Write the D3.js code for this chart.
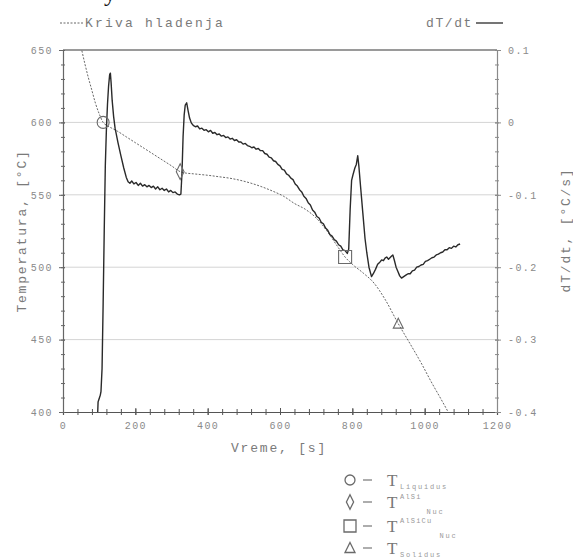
<!DOCTYPE html>
<html>
<head>
<meta charset="utf-8">
<script src="https://cdn.jsdelivr.net/npm/d3@7"></script>
<style>
body { margin: 0; background: #fff; }
text { font-family: "Liberation Mono", monospace; }
</style>
</head>
<body>
<div id="chart"></div>
<script>
// cooling curve (Kriva hladenja), left axis
var coolTime = [50, 60, 70, 80, 90, 100, 111, 120, 135, 150, 175, 200, 225, 250, 275, 300, 324, 340, 360, 380, 400, 430, 460, 490, 520, 550, 580, 610, 640, 670, 700, 730, 760, 780, 800, 830, 860, 890, 927, 960, 990, 1020, 1045, 1065];
var coolTemp = [652, 641, 631, 622, 613, 606, 600, 598, 596, 594, 590, 586, 582, 578, 574, 570, 566, 565, 564.5, 564, 563.5, 562.5, 561.5, 560, 558, 555.5, 552.5, 549, 544, 540, 534, 525, 514, 507, 502, 496, 489, 478, 461, 447, 434, 420, 409, 400];

// dT/dt, right axis
var rateTime = [96, 97, 99, 101, 103, 105, 108, 111, 114, 117, 120, 123, 126, 129, 131, 133, 136, 140, 144, 152, 160, 168, 175, 180,
  185, 190, 196, 202, 208, 214, 220, 226, 232, 238, 244, 250, 256, 262, 268, 274, 280, 286, 292, 298, 304, 310, 316, 322, 326,
  329, 332, 335, 338, 342, 346, 350, 355, 360,
  366, 372, 378, 384, 390, 396, 402, 408, 414, 420, 426, 432, 438, 444, 450, 456, 462, 468, 474, 480, 486, 492, 498, 504, 510, 516, 522, 528, 534,
  540, 546, 552, 558, 564, 570, 576, 582, 588, 594, 600, 606, 612, 618, 624, 630, 636, 642, 648, 654, 660, 666, 672, 678, 684, 690, 696, 702, 708, 714, 720, 726, 732, 738, 744, 750, 756, 762, 768, 774, 780, 786,
  790, 794, 798, 802, 807, 811, 815, 818, 823, 829, 835, 840, 846, 853, 858, 864, 870, 876, 881, 886, 891, 895, 900, 904, 908, 912, 916, 921, 926, 931, 936,
  942, 948, 954, 960, 966, 972, 978, 984, 990, 996, 1002, 1008, 1014, 1020, 1026, 1032, 1038, 1044, 1050, 1056, 1062, 1068, 1074, 1080, 1086, 1092, 1098];
var rateValue = [-0.400, -0.386, -0.383, -0.380, -0.377, -0.372, -0.340, -0.250, -0.150, -0.060, -0.010, 0.025, 0.050, 0.066, 0.068, 0.055, 0.030, 0.008, -0.008, -0.028, -0.046, -0.063, -0.076, -0.082,
  -0.084, -0.081, -0.085, -0.083, -0.087, -0.084, -0.088, -0.086, -0.089, -0.087, -0.090, -0.088, -0.092, -0.089, -0.093, -0.091, -0.094, -0.092, -0.096, -0.094, -0.097, -0.096, -0.099, -0.100, -0.099,
  -0.070, -0.020, 0.010, 0.024, 0.027, 0.016, 0.006, -0.001, -0.004,
  -0.006, -0.005, -0.009, -0.008, -0.011, -0.010, -0.013, -0.011, -0.015, -0.014, -0.017, -0.016, -0.019, -0.018, -0.021, -0.020, -0.023, -0.022, -0.025, -0.024, -0.027, -0.027, -0.030, -0.029, -0.032, -0.033, -0.035, -0.034, -0.037,
  -0.036, -0.039, -0.039, -0.043, -0.044, -0.048, -0.049, -0.053, -0.054, -0.058, -0.060, -0.065, -0.066, -0.071, -0.073, -0.077, -0.079, -0.085, -0.088, -0.093, -0.096, -0.102, -0.105, -0.111, -0.114, -0.121, -0.124, -0.130, -0.132, -0.138, -0.140, -0.146, -0.149, -0.155, -0.157, -0.162, -0.164, -0.169, -0.171, -0.176, -0.177, -0.181,
  -0.175, -0.120, -0.080, -0.072, -0.063, -0.058, -0.046, -0.060, -0.090, -0.125, -0.160, -0.180, -0.200, -0.213, -0.209, -0.203, -0.196, -0.193, -0.190, -0.191, -0.187, -0.186, -0.189, -0.187, -0.185, -0.183, -0.190, -0.200, -0.206, -0.212, -0.215,
  -0.213, -0.211, -0.209, -0.209, -0.205, -0.204, -0.200, -0.199, -0.197, -0.196, -0.192, -0.191, -0.189, -0.187, -0.186, -0.183, -0.182, -0.180, -0.179, -0.176, -0.176, -0.173, -0.174, -0.171, -0.172, -0.169, -0.168];

// characteristic points on the cooling curve
var markerShape = ["circle", "diamond", "square", "triangle"];
var markerTime = [111, 324, 780, 927];
var markerTemp = [600, 566, 507, 461];
var markerSup = ["", "AlSi", "AlSiCu", ""];
var markerSub = ["Liquidus", "Nuc", "Nuc", "Solidus"];

var xTicks = [0, 200, 400, 600, 800, 1000, 1200];
var leftTicks = [400, 450, 500, 550, 600, 650];
var rightTicks = [-0.4, -0.3, -0.2, -0.1, 0, 0.1];
var gridTemps = [450, 500, 550, 600];

var svg = d3.select("#chart").append("svg")
  .attr("width", 573)
  .attr("height", 560);

var x = d3.scaleLinear().domain([0, 1200]).range([63, 497]);
var yT = d3.scaleLinear().domain([400, 650]).range([412, 50]);
var yR = d3.scaleLinear().domain([-0.4, 0.1]).range([412, 50]);

svg.append("clipPath").attr("id", "clip")
  .append("rect").attr("x", 63).attr("y", 50).attr("width", 434).attr("height", 362);

// gridlines
svg.selectAll(".grid").data(gridTemps).enter().append("line")
  .attr("x1", 63).attr("x2", 497)
  .attr("y1", d => yT(d)).attr("y2", d => yT(d))
  .attr("stroke", "#d4d4d4").attr("stroke-width", 1);

// top border
svg.append("line").attr("x1", 63).attr("x2", 497).attr("y1", 50).attr("y2", 50)
  .attr("stroke", "#9a9a9a").attr("stroke-width", 2);

function styleAxis(g, color) {
  g.select(".domain").attr("stroke", color).attr("stroke-width", 1.2);
  g.selectAll(".tick line").attr("stroke", color);
  g.selectAll("text").style("font-family", "Liberation Mono, monospace")
    .style("font-size", "10px").style("letter-spacing", "1.4px").style("fill", "#8a8a8a");
}

// bottom axis: minor + major
var gxMinor = svg.append("g").attr("transform", "translate(0,412)")
  .call(d3.axisBottom(x).tickValues(d3.range(0, 1201, 40)).tickSize(3).tickFormat(""));
gxMinor.selectAll(".tick line").attr("y1", -3);
styleAxis(gxMinor, "#555");
var gx = svg.append("g").attr("transform", "translate(0,412)")
  .call(d3.axisBottom(x).tickValues(xTicks).tickSize(3).tickPadding(7).tickFormat(d => String(d)));
gx.selectAll(".tick line").attr("y1", -4);
gx.select(".domain").remove();
styleAxis(gx, "#555");

// left axis
var gyMinor = svg.append("g").attr("transform", "translate(63,0)")
  .call(d3.axisLeft(yT).tickValues(d3.range(400, 651, 10)).tickSize(2).tickFormat(""));
gyMinor.selectAll(".tick line").attr("x1", 2);
styleAxis(gyMinor, "#666");
var gy = svg.append("g").attr("transform", "translate(63,0)")
  .call(d3.axisLeft(yT).tickValues(leftTicks).tickSize(4).tickPadding(6));
gy.select(".domain").remove();
gy.selectAll(".tick line").attr("x1", 2);
styleAxis(gy, "#666");

// right axis
var grMinor = svg.append("g").attr("transform", "translate(497,0)")
  .call(d3.axisRight(yR).tickValues(d3.range(-0.4, 0.1001, 0.02)).tickSize(2).tickFormat(""));
grMinor.selectAll(".tick line").attr("x1", -2);
styleAxis(grMinor, "#8a8a8a");
var gr = svg.append("g").attr("transform", "translate(497,0)")
  .call(d3.axisRight(yR).tickValues(rightTicks).tickSize(4).tickPadding(7)
    .tickFormat(d => d === 0 ? "0" : String(+d.toFixed(1))));
gr.select(".domain").remove();
gr.selectAll(".tick line").attr("x1", -2);
styleAxis(gr, "#8a8a8a");

// cooling curve
var coolData = coolTime.map((t, i) => [t, coolTemp[i]]);
svg.append("path").datum(coolData)
  .attr("clip-path", "url(#clip)")
  .attr("fill", "none").attr("stroke", "#666").attr("stroke-width", 1)
  .attr("stroke-dasharray", "2,1.5")
  .attr("d", d3.line().x(d => x(d[0])).y(d => yT(d[1])).curve(d3.curveMonotoneX));

// derivative
var rateData = rateTime.map((t, i) => [t, rateValue[i]]);
svg.append("path").datum(rateData)
  .attr("fill", "none").attr("stroke", "#2a2a2a").attr("stroke-width", 1.4)
  .attr("stroke-linejoin", "round")
  .attr("d", d3.line().x(d => x(d[0])).y(d => yR(d[1])));

function markerPath(shape, s) {
  if (shape === "circle") return d3.symbol(d3.symbolCircle, s * s * 0.78)();
  if (shape === "square") return "M" + (-s / 2) + "," + (-s / 2) + "h" + s + "v" + s + "h" + (-s) + "Z";
  if (shape === "diamond") return "M0," + (-s * 0.6) + "L" + (s * 0.3) + ",0L0," + (s * 0.6) + "L" + (-s * 0.3) + ",0Z";
  return "M0," + (-s * 0.55) + "L" + (s * 0.5) + "," + (s * 0.45) + "L" + (-s * 0.5) + "," + (s * 0.45) + "Z";
}
var markerSize = [12, 13, 13, 10];

svg.selectAll(".marker").data(markerShape).enter().append("path")
  .attr("transform", (d, i) => "translate(" + x(markerTime[i]) + "," + yT(markerTemp[i]) + ")")
  .attr("d", (d, i) => markerPath(d, markerSize[i]))
  .attr("fill", "none").attr("stroke", "#6a6a6a").attr("stroke-width", 1.1);

// axis titles
svg.append("text").attr("x", 279).attr("y", 452).attr("text-anchor", "middle")
  .style("font-size", "13px").style("letter-spacing", "1.8px").style("fill", "#7a7a7a")
  .text("Vreme, [s]");
svg.append("text").attr("transform", "translate(26,231) rotate(-90)").attr("text-anchor", "middle")
  .style("font-size", "13px").style("letter-spacing", "1.8px").style("fill", "#7a7a7a")
  .text("Temperatura, [°C]");
svg.append("text").attr("transform", "translate(570,230) rotate(-90)").attr("text-anchor", "middle")
  .style("font-size", "13px").style("letter-spacing", "1.8px").style("fill", "#7a7a7a")
  .text("dT/dt, [°C/s]");

// top legend
svg.append("line").attr("x1", 60).attr("x2", 83).attr("y1", 23).attr("y2", 23)
  .attr("stroke", "#666").attr("stroke-dasharray", "2,1.5");
svg.append("text").attr("x", 85).attr("y", 27)
  .style("font-size", "13px").style("letter-spacing", "2.2px").style("fill", "#7a7a7a")
  .text("Kriva hladenja");
svg.append("text").attr("x", 426).attr("y", 27)
  .style("font-size", "13px").style("letter-spacing", "1.6px").style("fill", "#7a7a7a")
  .text("dT/dt");
svg.append("line").attr("x1", 476).attr("x2", 503).attr("y1", 23).attr("y2", 23)
  .attr("stroke", "#2a2a2a").attr("stroke-width", 1.3);

// cropped descender of text above the figure
svg.append("text").attr("x", 104).attr("y", 1)
  .style("font-family", "Liberation Serif, serif").style("font-size", "24px").style("fill", "#111")
  .text("y");

// bottom legend
var legY = [480, 502, 526, 548];
var legendG = svg.selectAll(".leg").data(markerShape).enter().append("g")
  .attr("transform", (d, i) => "translate(0," + legY[i] + ")");
legendG.append("path")
  .attr("transform", "translate(350,0)")
  .attr("d", (d, i) => markerPath(d, [10, 12, 12, 10][i]))
  .attr("fill", "none").attr("stroke", "#6a6a6a").attr("stroke-width", 1.3);
legendG.append("line").attr("x1", 363).attr("x2", 372).attr("y1", 0).attr("y2", 0)
  .attr("stroke", "#777").attr("stroke-width", 1.2);
legendG.append("text").attr("x", 387).attr("y", 6)
  .style("font-family", "Liberation Serif, serif").style("font-size", "17px").style("fill", "#777")
  .text("T");
legendG.append("text").attr("x", 400).attr("y", (d, i) => markerSup[i] ? -3 : 0)
  .style("font-size", "7px").style("letter-spacing", "1.2px").style("fill", "#999")
  .text((d, i) => markerSup[i]);
legendG.append("text")
  .attr("x", (d, i) => markerSup[i] ? 400 + markerSup[i].length * 6.6 : 400)
  .attr("y", (d, i) => markerSup[i] ? 12 : 9)
  .style("font-size", "7px").style("letter-spacing", "1.8px").style("fill", "#999")
  .text((d, i) => markerSub[i]);
</script>
</body>
</html>
